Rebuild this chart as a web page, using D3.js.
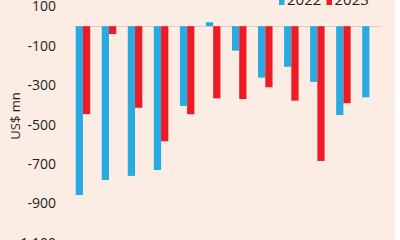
<!DOCTYPE html>
<html>
<head>
<meta charset="utf-8">
<script src="https://cdn.jsdelivr.net/npm/d3@7"></script>
<style>
  html, body { margin: 0; padding: 0; background: #ffffff; }
  svg { display: block; font-family: "Open Sans", sans-serif; }
</style>
</head>
<body>
<svg id="chart" width="400" height="240"></svg>
<script>
/*
 * Monthly values, US$ mn (x-axis labels fall below the visible crop)
 */
var months = ['Jan', 'Feb', 'Mar', 'Apr', 'May', 'Jun', 'Jul', 'Aug', 'Sep', 'Oct', 'Nov', 'Dec'];
var series = ['2022', '2023'];
var values2022 = [-857, -781, -760, -730, -405, 20, -124, -261, -206, -283, -451, -361];
var values2023 = [-446, -40, -414, -584, -447, -366, -370, -310, -378, -684, -391, null];
var yTicks = [100, -100, -300, -500, -700, -900, -1100];
var colors = ['#29abe2', '#ed1c24'];

var svg = d3.select('#chart');

// panel background
svg.append('rect')
    .attr('x', 0).attr('y', 0)
    .attr('width', 395).attr('height', 240)
    .attr('fill', '#fbede4');

var x = d3.scaleBand()
    .domain(months)
    .range([74, 378.4])
    .paddingInner(0.443)
    .paddingOuter(0.065);

var xSub = d3.scaleBand()
    .domain(series)
    .range([0, x.bandwidth()]);

var y = d3.scaleLinear()
    .domain([100, -1100])
    .range([6.5, 242.9]);

// zero line
svg.append('line')
    .attr('x1', x.range()[0])
    .attr('x2', x.range()[1] + 3.5)
    .attr('y1', Math.round(y(0)) + 0.5)
    .attr('y2', Math.round(y(0)) + 0.5)
    .attr('stroke', '#d8d2cd')
    .attr('stroke-width', 1);

// y axis labels only
var fmt = d3.format(',');
var yAxis = d3.axisLeft(y)
    .tickValues(yTicks)
    .tickSize(0)
    .tickPadding(0)
    .tickFormat(function(d) { return fmt(d).replace('\u2212', '-'); });

var gy = svg.append('g')
    .attr('transform', 'translate(56,0)')
    .call(yAxis);
gy.select('.domain').remove();
gy.selectAll('text')
    .attr('fill', '#231f20')
    .style('font-size', '14px')
    .style('font-family', '"Open Sans", sans-serif');

svg.append('text')
    .attr('transform', 'translate(20,116) rotate(-90)')
    .attr('text-anchor', 'middle')
    .attr('fill', '#231f20')
    .style('font-size', '13px')
    .text('US$ mn');

// bars
var rows = months.map(function(m, i) {
    return {month: m, vals: [values2022[i], values2023[i]]};
});

var groups = svg.selectAll('.grp')
    .data(rows)
    .enter().append('g')
    .attr('class', 'grp')
    .attr('transform', function(d) { return 'translate(' + x(d.month) + ',0)'; });

groups.selectAll('rect')
    .data(function(d) {
        return series.map(function(s, j) { return {s: s, v: d.vals[j], j: j}; })
            .filter(function(e) { return e.v != null; });
    })
    .enter().append('rect')
    .attr('x', function(d) { return xSub(d.s); })
    .attr('width', xSub.bandwidth())
    .attr('y', function(d) { return y(Math.max(0, d.v)); })
    .attr('height', function(d) { return Math.abs(y(d.v) - y(0)); })
    .attr('fill', function(d) { return colors[d.j]; });

// legend (top is cropped off)
var legendX = [279, 326.5];
var legend = svg.selectAll('.leg')
    .data(series)
    .enter().append('g')
    .attr('class', 'leg')
    .attr('transform', function(d, i) { return 'translate(' + legendX[i] + ',0)'; });

legend.append('rect')
    .attr('x', 0).attr('y', -3)
    .attr('width', 5.5).attr('height', 8)
    .attr('fill', function(d, i) { return colors[i]; });

legend.append('text')
    .attr('x', 8)
    .attr('y', 5)
    .attr('fill', '#231f20')
    .style('font-size', '15px')
    .text(function(d) { return d; });
</script>
</body>
</html>
